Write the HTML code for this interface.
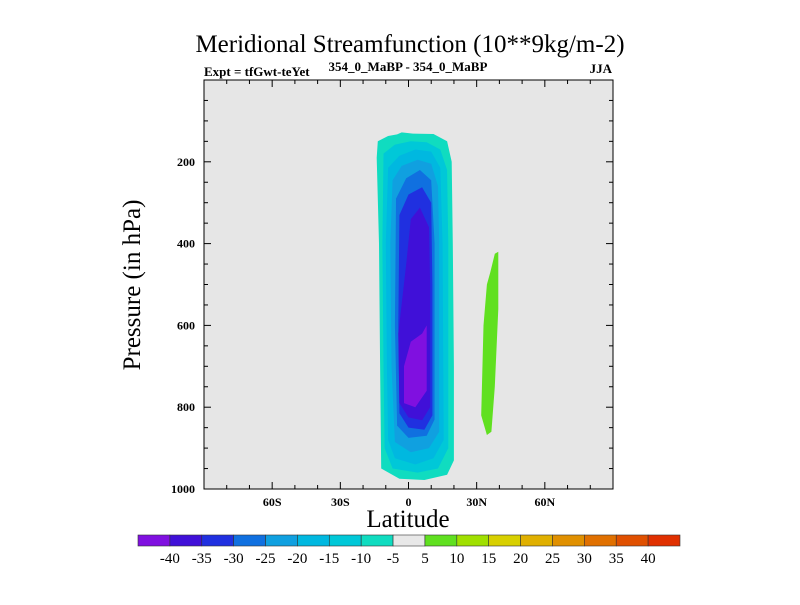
<!DOCTYPE html>
<html><head><meta charset="utf-8"><style>
body{margin:0;background:#fff;}
svg text{font-family:"Liberation Serif",serif;fill:#000;}
</style></head><body>
<svg id="c" width="800" height="600" viewBox="0 0 800 600">
<text x="410" y="52" font-size="25" text-anchor="middle">Meridional Streamfunction (10**9kg/m-2)</text>
<text x="204" y="76" font-size="13" font-weight="bold">Expt = tfGwt-teYet</text>
<text x="408" y="71" font-size="13" font-weight="bold" text-anchor="middle">354_0_MaBP - 354_0_MaBP</text>
<text x="612" y="73" font-size="13" text-anchor="end" font-weight="bold">JJA</text>
<rect x="204" y="80" width="409" height="409" fill="#e6e6e6"/>
<g id="fills"></g>
<g id="axes"></g>
<rect x="204" y="80" width="409" height="409" fill="none" stroke="#000" stroke-width="1"/>
<text x="408" y="527" font-size="25" text-anchor="middle">Latitude</text>
<text transform="translate(140,285) rotate(-90)" font-size="25" text-anchor="middle">Pressure (in hPa)</text>
<g id="cbar"></g>
</svg>
<script>
const levels = [-40,-35,-30,-25,-20,-15,-10,-5,5,10,15,20,25,30,35,40];
const colors = ["#8010e0","#4010d8","#2030e0","#1070e0","#10a0e0","#00b8e0","#00c8d8","#10dcc0","#e8e8e8","#60e020","#a0e000","#d8d000","#e0b000","#e09000","#e07000","#e05000","#e03000"];
const latTicks = [-60,-30,0,30,60];
const latTickLabels = ["60S","30S","0","30N","60N"];
const pTicks = [200,400,600,800,1000];
const regM5 = [[-13.5,150],[-9,137],[-5,133],[-3,128],[2,131],[11,132],[17,150],[19,200],[19.5,400],[20,700],[20,930],[17,965],[7,978],[-4,975],[-12,950],[-12.5,700],[-13,400],[-14,190]];
const regM10 = [[-11,180],[-6,158],[1,150],[8,152],[14,170],[17,220],[17.5,400],[17.5,900],[13,950],[4,960],[-7,950],[-10.5,900],[-11,700],[-11.5,400]];
const regM15 = [[-9,215],[-4,185],[3,170],[10,175],[14,215],[15,400],[15.5,880],[11,925],[3,940],[-6,925],[-9,880],[-9.5,700],[-10,400]];
const regM20 = [[-7,245],[-3,210],[4,195],[10,205],[13,260],[13.5,400],[13.5,860],[9,900],[1,910],[-6,885],[-7.5,700],[-8,400]];
const regM25 = [[-5.5,290],[-1,240],[5,220],[10,245],[11.5,400],[11.5,830],[8,870],[0,875],[-5,845],[-6,600]];
const regM30 = [[-4,330],[0,280],[6,262],[10,300],[10.5,500],[10.5,820],[7,855],[0,850],[-4,815],[-4.5,600]];
const regM35 = [[-1,450],[1,340],[5,312],[9,360],[9.5,500],[9.5,800],[6,832],[0,825],[-4,790],[-4.5,620]];
const regM40 = [[-2,790],[3,800],[8,760],[8,600],[6,620],[1,640],[-2,700]];
const regP5 = [[36,470],[38,425],[39.5,420],[39.5,560],[38,750],[36.5,860],[34.5,868],[32,820],[33,600],[34.5,500]];
const regions = [[7,regM5],[6,regM10],[5,regM15],[4,regM20],[3,regM25],[2,regM30],[1,regM35],[0,regM40],[9,regP5]];

const X = lat => 204 + (lat+90)/180*409;
const Y = p => 80 + p/1000*409;
const NS = "http://www.w3.org/2000/svg";
function mk(tag, attrs, parent){const e=document.createElementNS(NS,tag);for(const k in attrs)e.setAttribute(k,attrs[k]);parent.appendChild(e);return e;}
const fills=document.getElementById('fills'), axes=document.getElementById('axes'), cb=document.getElementById('cbar');
regions.forEach(r=>{
  const e=mk('polygon',{points:r[1].map(q=>X(q[0]).toFixed(1)+','+Y(q[1]).toFixed(1)).join(' '),fill:colors[r[0]],'stroke-linejoin':'round'},fills);
  
  
});
for(let lat=-80;lat<=80;lat+=10){
  const maj=lat%30===0, L=maj?7:4, x=X(lat);
  mk('line',{x1:x,x2:x,y1:489,y2:489-L,stroke:'#000'},axes);
  mk('line',{x1:x,x2:x,y1:80,y2:80+L,stroke:'#000'},axes);
}
for(let p=50;p<1000;p+=50){
  const maj=p%200===0, L=maj?7:4, y=Y(p);
  mk('line',{x1:204,x2:204+L,y1:y,y2:y,stroke:'#000'},axes);
  mk('line',{x1:613,x2:613-L,y1:y,y2:y,stroke:'#000'},axes);
}
latTicks.forEach((v,i)=>{
  const t=mk('text',{x:X(v),y:506,'font-size':12,'font-weight':'bold','text-anchor':'middle'},axes);t.textContent=latTickLabels[i];
  
  
});
pTicks.forEach(v=>{
  const t=mk('text',{x:195,y:Y(v)+4,'font-size':12,'font-weight':'bold','text-anchor':'end'},axes);t.textContent=v;
  
  
});
const cx0=138, cw=(680-138)/colors.length;
colors.forEach((c,i)=>{
  const r=mk('rect',{x:cx0+i*cw,y:535,width:cw,height:11,fill:c,stroke:'#333','stroke-width':0.6},cb);
  
  
});
levels.forEach((v,i)=>{
  const t=mk('text',{x:cx0+(i+1)*cw,y:563,'font-size':15,'text-anchor':'middle'},cb);t.textContent=v;
  
  
});
</script>
</body></html>
